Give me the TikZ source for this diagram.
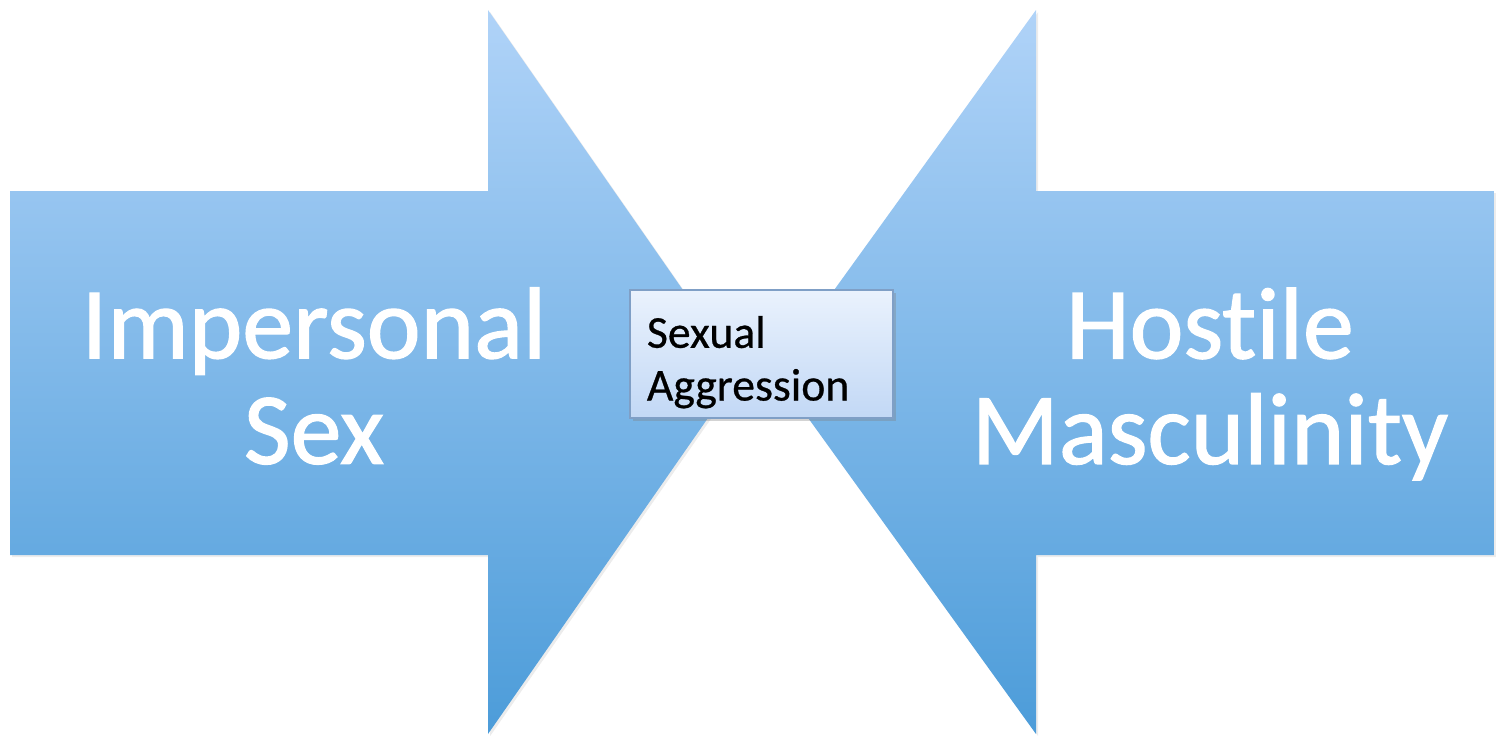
\documentclass[tikz,border=0pt]{standalone}
\usepackage{fontspec}
\setmainfont[Ligatures=NoCommon]{Carlito}
\newfontfamily\arrowfont[Ligatures=NoCommon, FakeBold=1.2]{Carlito}
\newfontfamily\boxfont[Ligatures=NoCommon, FakeBold=0.6]{Carlito}
\usetikzlibrary{shadows}

\definecolor{arrowtop}{HTML}{B0D3F8}
\definecolor{arrowbot}{HTML}{4C9CD9}
\definecolor{boxtop}{HTML}{EAF2FD}
\definecolor{boxbot}{HTML}{C2D8F5}
\definecolor{boxline}{HTML}{7F9FC6}

\begin{document}
\begin{tikzpicture}[x=0.01cm, y=-0.01cm,
    bigarrow/.style={top color=arrowtop, bottom color=arrowbot,
        drop shadow={opacity=0.15, shadow xshift=0.6pt, shadow yshift=-0.6pt}},
    biglabel/.style={text=white, align=center, font=\arrowfont\fontsize{29}{30}\selectfont},
    centrebox/.style={draw=boxline, line width=0.5pt, top color=boxtop, bottom color=boxbot,
        minimum width=2.63cm, minimum height=1.28cm, inner xsep=0.17cm, inner ysep=0pt,
        text width=2.29cm, align=left, font=\boxfont\fontsize{13}{15}\selectfont,
        execute at begin node={\rule{0pt}{13.7pt}},
        drop shadow={opacity=0.35, shadow xshift=0.8pt, shadow yshift=-0.8pt}}]
    \useasboundingbox (0,0) rectangle (1496,736);

    % the two arrows
    \path[bigarrow] (10,191) -- (488,191) -- (488,10) -- (740,372)
        -- (488,734) -- (488,555) -- (10,555) -- cycle;
    \path[bigarrow] (1494,191) -- (1036,191) -- (1036,10) -- (775,372)
        -- (1036,734) -- (1036,555) -- (1494,555) -- cycle;

    \node[biglabel] (impersonal) at (314,376) {Impersonal\\Sex};
    \node[biglabel] (hostile) at (1210,384) {Hostile\\Masculinity};

    \node[centrebox] (aggression) at (761.5,354) {Sexual\\Aggression};
\end{tikzpicture}
\end{document}
